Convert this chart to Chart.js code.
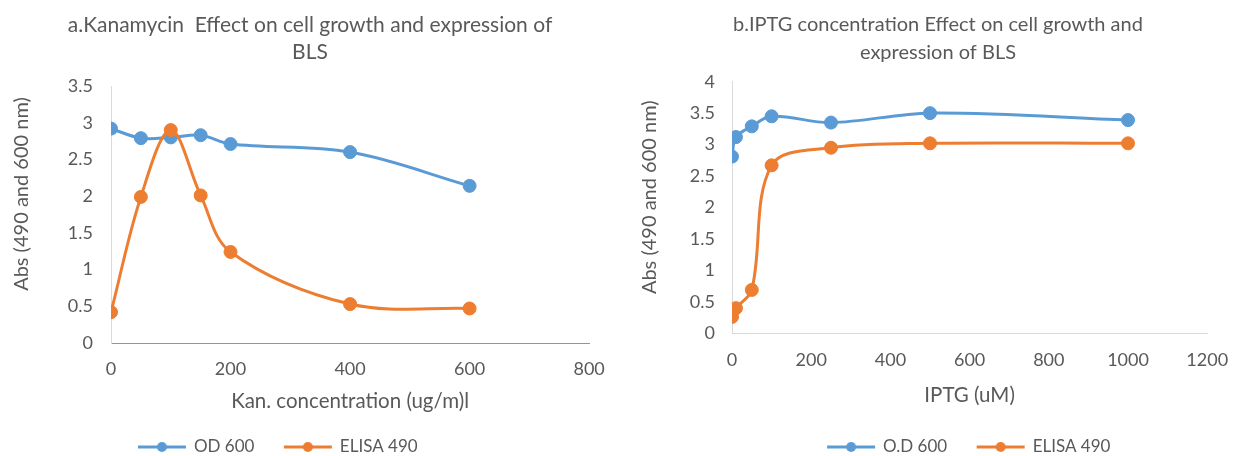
<!DOCTYPE html>
<html>
<head>
<meta charset="utf-8">
<script src="https://cdn.jsdelivr.net/npm/chart.js@4/dist/chart.umd.min.js"></script>
<style>
  html, body { margin: 0; padding: 0; background: #fff; }
  .box { position: absolute; top: 0; }
  canvas { display: block; }
</style>
</head>
<body>
<div class="box" style="left:0"><canvas id="chartA" width="620" height="456"></canvas></div>
<div class="box" style="left:632px"><canvas id="chartB" width="612" height="456"></canvas></div>
<script>
/* data: a = kanamycin, b = IPTG */
const kanX     = [0, 50, 100, 150, 200, 400, 600];
const kanOD    = [2.92, 2.79, 2.80, 2.83, 2.71, 2.60, 2.14];
const kanELISA = [0.42, 1.99, 2.90, 2.01, 1.24, 0.53, 0.47];

const iptgX     = [0, 10, 50, 100, 250, 500, 1000];
const iptgOD    = [2.81, 3.12, 3.29, 3.45, 3.35, 3.50, 3.39];
const iptgELISA = [0.26, 0.40, 0.69, 2.67, 2.95, 3.02, 3.02];

const BLUE   = '#5B9BD5';
const ORANGE = '#ED7D31';
const TEXT   = '#595959';
const LIGHT  = '#D9D9D9';

Chart.defaults.font.family = 'Lato, "Open Sans", sans-serif';
Chart.defaults.color = TEXT;

/* legend marker: short line with a dot in the middle */
function makeMarker(color) {
  const c = document.createElement('canvas');
  c.width = 50; c.height = 12;
  const g = c.getContext('2d');
  g.strokeStyle = color; g.lineWidth = 3;
  g.beginPath(); g.moveTo(1, 6); g.lineTo(49, 6); g.stroke();
  g.fillStyle = color;
  g.beginPath(); g.arc(25, 6, 5, 0, Math.PI * 2); g.fill();
  return c;
}

function toPts(xs, ys) { return xs.map((x, i) => ({ x, y: ys[i] })); }

function series(label, xs, ys, color, order) {
  return {
    label, data: toPts(xs, ys), order,
    borderColor: color, backgroundColor: color,
    borderWidth: 3, pointRadius: 6.5, pointBorderWidth: 1,
    pointBackgroundColor: color, pointBorderColor: color,
    tension: 0.35, fill: false,
  };
}

function shiftLegend(dx, dy) {
  return {
    id: 'shiftLegend',
    afterLayout(chart) {
      const lg = chart.legend;
      lg.left += dx; lg.right += dx; lg.top += dy; lg.bottom += dy;
    },
  };
}

function drawChart({ canvasId, title, titleSize, titlePad, xTitle, xMax, yMax, datasets, yW, yTitle, yTitlePad, yTickPad,
                     xH, xTickPad, xTitlePadB, xBorder, rightW, legendShift }) {
  const markers = datasets.map(d => makeMarker(d.borderColor));
  return new Chart(document.getElementById(canvasId), {
    type: 'line',
    data: { datasets },
    options: {
      responsive: false, animation: false,
      layout: { padding: 0 },
      plugins: {
        title: {
          display: true, text: title, color: TEXT,
          font: { size: titleSize, weight: 'normal', lineHeight: titlePad.lh + 'px' },
          padding: { top: titlePad.top, bottom: titlePad.bottom },
        },
        legend: {
          position: 'bottom',
          labels: {
            usePointStyle: true, pointStyleWidth: 47, padding: 30,
            color: TEXT, font: { size: 17 },
            generateLabels: chart => chart.data.datasets.map((d, i) => ({
              text: d.label, datasetIndex: i, fillStyle: d.borderColor,
              strokeStyle: d.borderColor, lineWidth: 0, pointStyle: markers[i],
              fontColor: TEXT, hidden: false,
            })),
          },
        },
        tooltip: { enabled: false },
      },
      scales: {
        x: {
          type: 'linear', min: 0, max: xMax,
          ticks: { stepSize: 200, padding: xTickPad, font: { size: 18 }, callback: v => String(v) },
          grid: { display: false, drawTicks: false },
          border: { display: true, color: xBorder, width: 1 },
          title: { display: true, text: xTitle, font: { size: 20.5 }, padding: { top: 0, bottom: xTitlePadB } },
          afterFit: s => { s.height = xH; },
        },
        y: {
          min: 0, max: yMax,
          ticks: { stepSize: 0.5, padding: yTickPad, font: { size: 18 }, callback: v => String(v) },
          grid: { display: false, drawTicks: false },
          border: { display: true, color: LIGHT, width: 1 },
          title: { display: true, text: yTitle, font: { size: 20 }, padding: { top: yTitlePad, bottom: 0 } },
          afterFit: s => { s.width = yW; },
        },
        /* empty right-hand strip so title/legend centre on the whole chart box */
        yPad: {
          position: 'right', display: true,
          ticks: { display: false }, grid: { display: false, drawTicks: false },
          border: { display: false },
          afterFit: s => { s.width = rightW; },
        },
      },
    },
    plugins: [shiftLegend(legendShift[0], legendShift[1])],
  });
}

drawChart({
  canvasId: 'chartA',
  title: ['a.Kanamycin  Effect on cell growth and expression of', 'BLS'],
  titleSize: 21,
  titlePad: { top: 11.5, bottom: 20.5, lh: 27 },
  xTitle: 'Kan. concentration (ug/m)l',
  xMax: 800, yMax: 3.5,
  datasets: [
    series('OD 600', kanX, kanOD, BLUE, 1),
    series('ELISA 490', kanX, kanELISA, ORANGE, 0),
  ],
  yW: 111, yTitle: '        Abs (490 and 600 nm)', yTitlePad: 10, yTickPad: 18,
  xH: 56, xTickPad: 15.2, xTitlePadB: -15, xBorder: '#8497B0',
  rightW: 29, legendShift: [-32, 9.5],
});

drawChart({
  canvasId: 'chartB',
  title: ['b.IPTG concentration Effect on cell growth and', 'expression of BLS'],
  titleSize: 20,
  titlePad: { top: 10.5, bottom: 15.2, lh: 28 },
  xTitle: 'IPTG (uM)',
  xMax: 1200, yMax: 4,
  datasets: [
    series('O.D 600', iptgX, iptgOD, BLUE, 1),
    series('ELISA 490', iptgX, iptgELISA, ORANGE, 0),
  ],
  yW: 100, yTitle: '    Abs (490 and 600 nm)', yTitlePad: 6, yTickPad: 17,
  xH: 65.7, xTickPad: 15.9, xTitlePadB: -8.3, xBorder: LIGHT,
  rightW: 22.4, legendShift: [31, 9.5],
});
</script>
</body>
</html>
